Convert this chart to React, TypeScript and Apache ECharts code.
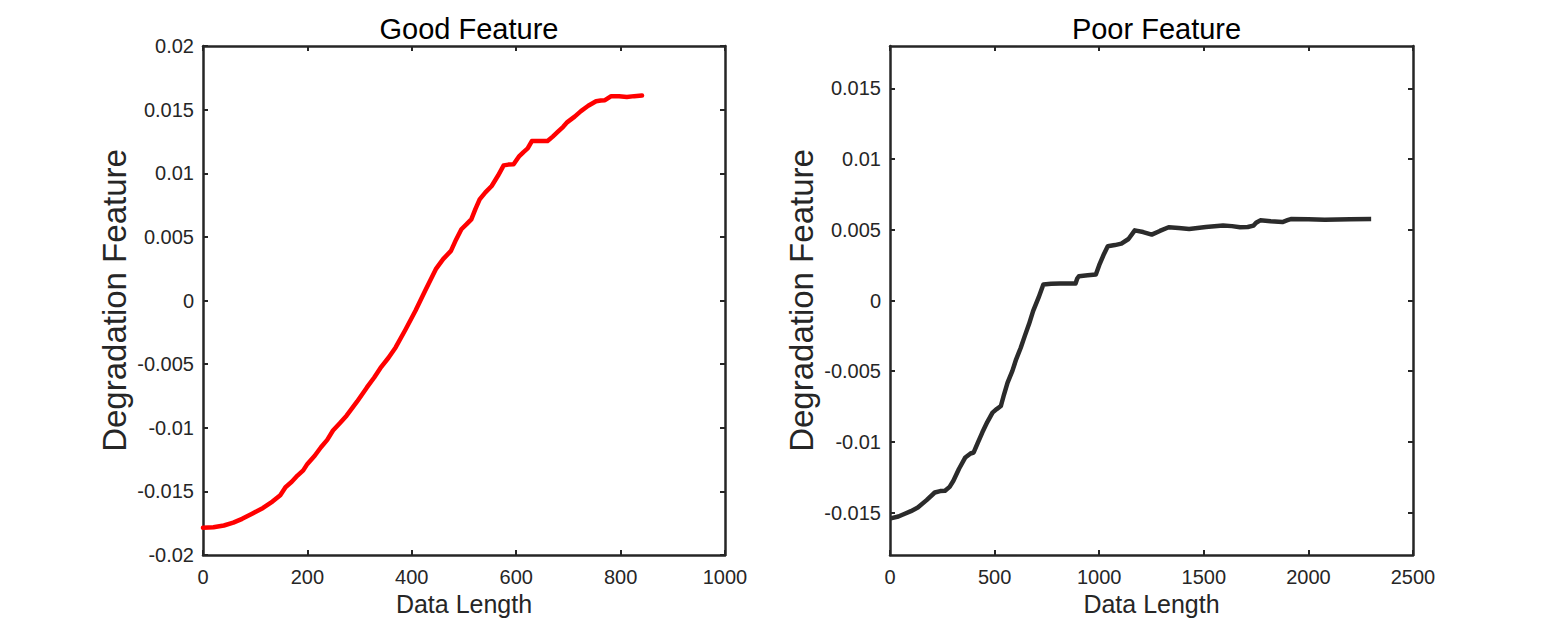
import React, { useEffect, useRef } from "react";
import * as echarts from "echarts";

const goodX = [0, 20, 40, 58, 75, 94, 115, 133, 148, 158, 170, 181, 192, 200, 214, 226, 238, 249, 262, 275, 295, 314, 328, 340, 355, 369, 388, 407, 426, 446, 460, 475, 485, 495, 505, 514, 522, 530, 541, 553, 565, 576, 585, 595, 605, 614, 622, 630, 645, 660, 670, 679, 690, 698, 712, 724, 738, 753, 762, 770, 782, 797, 812, 826, 841];
const goodY = [-0.01786, -0.01782, -0.01768, -0.01746, -0.01716, -0.01676, -0.0163, -0.0158, -0.0153, -0.01467, -0.01425, -0.01376, -0.01335, -0.01284, -0.0122, -0.01153, -0.01095, -0.01022, -0.00965, -0.00905, -0.00795, -0.00683, -0.00605, -0.0053, -0.00452, -0.00369, -0.00228, -0.00081, 0.0008, 0.00246, 0.00325, 0.0039, 0.0048, 0.0056, 0.006, 0.00638, 0.0072, 0.00795, 0.0085, 0.009, 0.0098, 0.01062, 0.01068, 0.0107, 0.0113, 0.01166, 0.01195, 0.01253, 0.01253, 0.01253, 0.01288, 0.01323, 0.01365, 0.01402, 0.01445, 0.01488, 0.0153, 0.01566, 0.01572, 0.01574, 0.01606, 0.01605, 0.016, 0.01606, 0.01611];

const poorX = [3, 40, 68, 100, 133, 175, 214, 240, 263, 285, 303, 330, 360, 385, 400, 420, 441, 465, 490, 510, 530, 545, 562, 585, 603, 625, 644, 665, 684, 710, 733, 770, 814, 850, 887, 895, 903, 945, 984, 1000, 1020, 1041, 1075, 1106, 1140, 1170, 1210, 1251, 1290, 1332, 1380, 1430, 1510, 1592, 1635, 1673, 1710, 1738, 1750, 1770, 1820, 1876, 1900, 1916, 2000, 2078, 2200, 2300];
const poorY = [-0.01541, -0.01528, -0.0151, -0.0149, -0.01464, -0.01412, -0.01358, -0.01348, -0.01346, -0.01318, -0.01275, -0.0119, -0.0111, -0.01082, -0.01075, -0.01005, -0.00934, -0.0086, -0.00793, -0.00768, -0.00746, -0.00665, -0.00581, -0.00498, -0.00416, -0.00334, -0.00252, -0.00165, -0.00075, 0.0002, 0.00113, 0.00118, 0.0012, 0.0012, 0.0012, 0.00155, 0.00172, 0.00178, 0.00184, 0.0025, 0.0032, 0.00384, 0.00392, 0.00402, 0.00435, 0.00496, 0.00484, 0.00466, 0.00492, 0.00518, 0.00512, 0.00506, 0.0052, 0.0053, 0.00526, 0.00518, 0.0052, 0.0053, 0.0055, 0.00567, 0.0056, 0.00555, 0.00568, 0.00576, 0.00574, 0.00572, 0.00575, 0.00576];

const goodYTicks = [-0.02, -0.015, -0.01, -0.005, 0, 0.005, 0.01, 0.015, 0.02];
const poorYTicks = [-0.015, -0.01, -0.005, 0, 0.005, 0.01, 0.015];
const goodXTicks = [0, 200, 400, 600, 800, 1000];
const poorXTicks = [0, 500, 1000, 1500, 2000, 2500];

const titles = ["Good Feature", "Poor Feature"];
const xName = "Data Length";
const yName = "Degradation Feature";

const INK = "#262626";
const FONT = "Liberation Sans, Arial, Helvetica, sans-serif";

function zip(xs: number[], ys: number[]) {
  return xs.map((x, i) => [x, ys[i]]);
}

export default function App() {
  const ref = useRef<HTMLDivElement>(null);
  useEffect(() => {
    if (!ref.current) return;
    const chart = echarts.init(ref.current, null, { renderer: "svg" });

    const grids = [
      { left: 203, top: 46, width: 522, height: 509 },
      { left: 890, top: 46, width: 523, height: 509 },
    ];
    const xRanges = [
      { min: 0, max: 1000, ticks: goodXTicks },
      { min: 0, max: 2500, ticks: poorXTicks },
    ];
    const yRanges = [
      { min: -0.02, max: 0.02, ticks: goodYTicks },
      { min: -0.018, max: 0.018, ticks: poorYTicks },
    ];
    const fmt = (v: number) => String(v);

    const xAxes: any[] = [];
    const yAxes: any[] = [];
    for (let g = 0; g < 2; g++) {
      const xr = xRanges[g];
      const yr = yRanges[g];
      xAxes.push({
        type: "value",
        gridIndex: g,
        position: "bottom",
        min: xr.min,
        max: xr.max,
        name: xName,
        nameLocation: "middle",
        nameGap: 35,
        nameTextStyle: { color: INK, fontSize: 25, fontFamily: FONT },
        axisLine: { show: true, onZero: false, lineStyle: { color: INK, width: 2.5 } },
        axisTick: { show: true, inside: true, length: 5, customValues: xr.ticks, lineStyle: { color: INK, width: 2 } },
        axisLabel: { show: true, customValues: xr.ticks, formatter: fmt, margin: 12, color: INK, fontSize: 20, fontFamily: FONT },
        splitLine: { show: false },
      });
      xAxes.push({
        type: "value",
        gridIndex: g,
        position: "top",
        min: xr.min,
        max: xr.max,
        axisLine: { show: true, onZero: false, lineStyle: { color: INK, width: 2.5 } },
        axisTick: { show: true, inside: true, length: 5, customValues: xr.ticks, lineStyle: { color: INK, width: 2 } },
        axisLabel: { show: false },
        splitLine: { show: false },
      });
      yAxes.push({
        type: "value",
        gridIndex: g,
        position: "left",
        min: yr.min,
        max: yr.max,
        name: yName,
        nameLocation: "middle",
        nameGap: 72,
        nameTextStyle: { color: INK, fontSize: 33, fontFamily: FONT },
        axisLine: { show: true, onZero: false, lineStyle: { color: INK, width: 2.5 } },
        axisTick: { show: true, inside: true, length: 5, customValues: yr.ticks, lineStyle: { color: INK, width: 2 } },
        axisLabel: { show: true, customValues: yr.ticks, formatter: fmt, margin: 9, color: INK, fontSize: 20, fontFamily: FONT },
        splitLine: { show: false },
      });
      yAxes.push({
        type: "value",
        gridIndex: g,
        position: "right",
        min: yr.min,
        max: yr.max,
        axisLine: { show: true, onZero: false, lineStyle: { color: INK, width: 2.5 } },
        axisTick: { show: true, inside: true, length: 5, customValues: yr.ticks, lineStyle: { color: INK, width: 2 } },
        axisLabel: { show: false },
        splitLine: { show: false },
      });
    }

    chart.setOption({
      animation: false,
      backgroundColor: "#ffffff",
      title: titles.map((t, g) => ({
        text: t,
        left: grids[g].left + grids[g].width / 2,
        top: 9,
        textAlign: "center",
        textStyle: { color: "#000000", fontSize: 29, fontWeight: "normal", fontFamily: FONT },
      })),
      grid: grids,
      xAxis: xAxes,
      yAxis: yAxes,
      series: [
        {
          type: "line",
          xAxisIndex: 0,
          yAxisIndex: 0,
          data: zip(goodX, goodY),
          showSymbol: false,
          lineStyle: { color: "#ff0000", width: 4.5, join: "round", cap: "round" },
          itemStyle: { color: "#ff0000" },
          z: 1,
        },
        {
          type: "line",
          xAxisIndex: 2,
          yAxisIndex: 2,
          data: zip(poorX, poorY),
          showSymbol: false,
          lineStyle: { color: "#2b2b2b", width: 4.5, join: "round", cap: "butt" },
          itemStyle: { color: "#2b2b2b" },
          z: 1,
        },
      ],
    });
    return () => chart.dispose();
  }, []);
  return (
    <div
      ref={ref}
      style={{ position: "fixed", left: 0, top: 0, width: 1563, height: 625, background: "#fff" }}
    />
  );
}
